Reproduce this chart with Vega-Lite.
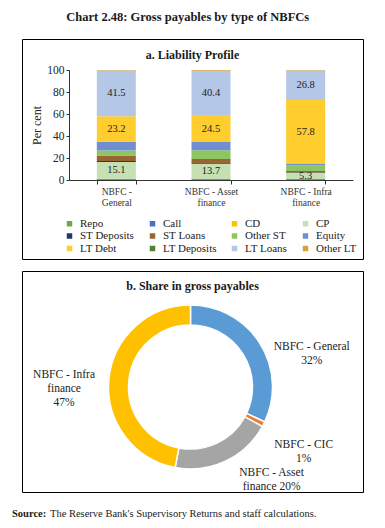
{
  "$schema": "https://vega.github.io/schema/vega-lite/v6.json",
  "padding": {"left": 12, "right": 12, "top": 11, "bottom": 6},
  "bounds": "flush",
  "title": {"text": "Chart 2.48: Gross payables by type of NBFCs", "fontSize": 12.5, "fontWeight": "bold", "anchor": "middle", "offset": 15, "color": "#1a1a1a"},
  "spacing": 12,
  "resolve": {"scale": {"color": "independent", "theta": "independent"}, "legend": {"color": "independent"}},
  "config": {
    "font": "Liberation Serif",
    "view": {"stroke": null},
    "axis": {"grid": false, "labelFont": "Liberation Serif", "titleFont": "Liberation Serif"},
    "legend": {"labelFont": "Liberation Serif"},
    "title": {"font": "Liberation Serif"}
  },
  "vconcat": [
    {
      "width": 341,
      "height": 220,
      "view": {"stroke": "#000", "strokeWidth": 1},
      "title": {"text": "a. Liability Profile", "fontSize": 12, "fontWeight": "bold", "anchor": "middle", "offset": 0, "dy": 23, "color": "#1a1a1a"},
      "data": {"values": [
        {"nbfc": "NBFC - General", "series": "Repo", "value": 1.2},
        {"nbfc": "NBFC - General", "series": "Call", "value": 0},
        {"nbfc": "NBFC - General", "series": "CD", "value": 0},
        {"nbfc": "NBFC - General", "series": "CP", "value": 15.1},
        {"nbfc": "NBFC - General", "series": "ST Deposits", "value": 1.0},
        {"nbfc": "NBFC - General", "series": "ST Loans", "value": 5.0},
        {"nbfc": "NBFC - General", "series": "Other ST", "value": 4.5},
        {"nbfc": "NBFC - General", "series": "Equity", "value": 8.0},
        {"nbfc": "NBFC - General", "series": "LT Debt", "value": 23.2},
        {"nbfc": "NBFC - General", "series": "LT Deposits", "value": 0},
        {"nbfc": "NBFC - General", "series": "LT Loans", "value": 41.5},
        {"nbfc": "NBFC - General", "series": "Other LT", "value": 0.5},
        {"nbfc": "NBFC - Asset finance", "series": "Repo", "value": 1.0},
        {"nbfc": "NBFC - Asset finance", "series": "Call", "value": 0},
        {"nbfc": "NBFC - Asset finance", "series": "CD", "value": 0},
        {"nbfc": "NBFC - Asset finance", "series": "CP", "value": 13.7},
        {"nbfc": "NBFC - Asset finance", "series": "ST Deposits", "value": 0.8},
        {"nbfc": "NBFC - Asset finance", "series": "ST Loans", "value": 3.5},
        {"nbfc": "NBFC - Asset finance", "series": "Other ST", "value": 8.0},
        {"nbfc": "NBFC - Asset finance", "series": "Equity", "value": 7.5},
        {"nbfc": "NBFC - Asset finance", "series": "LT Debt", "value": 24.5},
        {"nbfc": "NBFC - Asset finance", "series": "LT Deposits", "value": 0},
        {"nbfc": "NBFC - Asset finance", "series": "LT Loans", "value": 40.4},
        {"nbfc": "NBFC - Asset finance", "series": "Other LT", "value": 0.6},
        {"nbfc": "NBFC - Infra finance", "series": "Repo", "value": 1.0},
        {"nbfc": "NBFC - Infra finance", "series": "Call", "value": 0},
        {"nbfc": "NBFC - Infra finance", "series": "CD", "value": 0},
        {"nbfc": "NBFC - Infra finance", "series": "CP", "value": 5.3},
        {"nbfc": "NBFC - Infra finance", "series": "ST Deposits", "value": 0.6},
        {"nbfc": "NBFC - Infra finance", "series": "ST Loans", "value": 1.3},
        {"nbfc": "NBFC - Infra finance", "series": "Other ST", "value": 5.0},
        {"nbfc": "NBFC - Infra finance", "series": "Equity", "value": 1.8},
        {"nbfc": "NBFC - Infra finance", "series": "LT Debt", "value": 57.8},
        {"nbfc": "NBFC - Infra finance", "series": "LT Deposits", "value": 0},
        {"nbfc": "NBFC - Infra finance", "series": "LT Loans", "value": 26.8},
        {"nbfc": "NBFC - Infra finance", "series": "Other LT", "value": 0.4}
      ]},
      "transform": [{"window": [{"op": "row_number", "as": "idx"}]}],
      "encoding": {
        "x": {
          "field": "nbfc", "type": "nominal", "sort": null,
          "scale": {"range": [47, 331], "paddingInner": 0.588, "paddingOuter": 0.294},
          "axis": {
            "title": null, "orient": "bottom", "offset": -79, "labelAngle": 0,
            "tickBand": "extent", "tickSize": 4, "tickColor": "#333", "domainColor": "#333",
            "labelFontSize": 9.5, "labelColor": "#333", "labelPadding": 2, "labelLineHeight": 11,
            "labelExpr": "datum.value == 'NBFC - General' ? ['NBFC -', 'General'] : datum.value == 'NBFC - Asset finance' ? ['NBFC - Asset', 'finance'] : datum.value == 'NBFC - Infra finance' ? ['NBFC - Infra', 'finance'] : ''"
          }
        },
        "order": {"field": "idx", "type": "quantitative"}
      },
      "layer": [
        {
          "mark": {"type": "bar"},
          "encoding": {
            "y": {
              "field": "value", "type": "quantitative", "stack": "zero",
              "scale": {"domain": [0, 100], "range": [141, 31], "nice": false},
              "axis": {
                "title": "Per cent", "offset": -47, "values": [0, 10, 20, 30, 40, 50, 60, 70, 80, 90, 100],
                "tickSize": 3, "tickColor": "#333", "domainColor": "#333",
                "labelFontSize": 11.5, "labelColor": "#222", "labelPadding": 2,
                "titleFontSize": 12, "titleFontWeight": "normal", "titleColor": "#222", "titlePadding": 3
              }
            },
            "color": {
              "field": "series", "type": "nominal",
              "scale": {
                "domain": ["Repo", "Call", "CD", "CP", "ST Deposits", "ST Loans", "Other ST", "Equity", "LT Debt", "LT Deposits", "LT Loans", "Other LT"],
                "range": ["#6AAA45", "#4472C4", "#FFC000", "#C5E0B3", "#203864", "#996633", "#8DC560", "#6F8FD0", "#FFCD2E", "#548235", "#B4C7E7", "#D6A33A"]
              },
              "legend": {
                "title": null, "orient": "none", "legendX": 42, "legendY": 179, "columns": 4, "direction": "horizontal",
                "columnPadding": 12, "rowPadding": 0.5, "symbolType": "square", "symbolSize": 30,
                "symbolStrokeWidth": 0, "labelFontSize": 11, "labelColor": "#222", "labelOffset": 5, "padding": 0
              }
            }
          }
        },
        {
          "mark": {"type": "text", "fontSize": 10.5, "color": "#222"},
          "encoding": {
            "y": {"field": "value", "type": "quantitative", "stack": "zero", "bandPosition": 0.5},
            "detail": {"field": "series"},
            "text": {
              "condition": {"test": "datum.series === 'CP' || datum.series === 'LT Debt' || datum.series === 'LT Loans'", "field": "value", "type": "quantitative", "format": ".1f"},
              "value": ""
            }
          }
        }
      ]
    },
    {
      "width": 341,
      "height": 221,
      "view": {"stroke": "#000", "strokeWidth": 1},
      "title": {"text": "b. Share in gross payables", "fontSize": 12, "fontWeight": "bold", "anchor": "middle", "offset": 0, "dy": 22, "color": "#1a1a1a"},
      "data": {"values": [
        {"nbfc": "NBFC - General", "share": 32, "label": "NBFC - General\n32%"},
        {"nbfc": "NBFC - CIC", "share": 1, "label": "NBFC - CIC\n1%"},
        {"nbfc": "NBFC - Asset finance", "share": 20, "label": "NBFC - Asset\nfinance 20%"},
        {"nbfc": "NBFC - Infra finance", "share": 47, "label": "NBFC - Infra\nfinance\n47%"}
      ]},
      "transform": [{"window": [{"op": "row_number", "as": "idx"}]}],
      "encoding": {
        "theta": {"field": "share", "type": "quantitative", "stack": true},
        "order": {"field": "idx", "type": "quantitative"}
      },
      "layer": [
        {
          "mark": {"type": "arc", "outerRadius": 82, "innerRadius": 62, "stroke": "#fff", "strokeWidth": 1.5, "xOffset": -2, "yOffset": 5.5},
          "encoding": {
            "color": {
              "field": "nbfc", "type": "nominal",
              "scale": {"domain": ["NBFC - General", "NBFC - CIC", "NBFC - Asset finance", "NBFC - Infra finance"], "range": ["#5B9BD5", "#ED7D31", "#A5A5A5", "#FFC000"]},
              "legend": null
            }
          }
        },
        {
          "mark": {"type": "text", "radius": 127, "fontSize": 11.5, "color": "#222", "lineBreak": "\n", "lineHeight": 14, "xOffset": -2, "yOffset": 5.5},
          "encoding": {
            "detail": {"field": "nbfc"},
            "text": {"condition": {"test": "datum.nbfc === 'NBFC - CIC' || datum.nbfc === 'NBFC - Infra finance'", "field": "label"}, "value": ""}
          }
        },
        {
          "mark": {"type": "text", "radius": 127, "fontSize": 11.5, "color": "#222", "lineBreak": "\n", "lineHeight": 14, "xOffset": -2, "yOffset": 5.5, "dx": 14, "dy": 28},
          "encoding": {
            "detail": {"field": "nbfc"},
            "text": {"condition": {"test": "datum.nbfc === 'NBFC - General'", "field": "label"}, "value": ""}
          }
        },
        {
          "mark": {"type": "text", "radius": 127, "fontSize": 11.5, "color": "#222", "lineBreak": "\n", "lineHeight": 14, "xOffset": -2, "yOffset": 5.5, "dx": 27, "dy": -29},
          "encoding": {
            "detail": {"field": "nbfc"},
            "text": {"condition": {"test": "datum.nbfc === 'NBFC - Asset finance'", "field": "label"}, "value": ""}
          }
        }
      ]
    },
    {
      "spacing": 3,
      "bounds": "flush",
      "hconcat": [
        {
          "width": 35, "height": 1,
          "title": {"text": "Source:", "orient": "bottom", "fontSize": 10.5, "fontWeight": "bold", "anchor": "start", "dx": -10, "color": "#1a1a1a", "offset": 4},
          "data": {"values": []},
          "mark": {"type": "rule"},
          "encoding": {}
        },
        {
          "width": 300, "height": 1,
          "title": {"text": "The Reserve Bank's Supervisory Returns and staff calculations.", "orient": "bottom", "fontSize": 10.5, "fontWeight": "normal", "anchor": "start", "dx": -10, "color": "#1a1a1a", "offset": 4},
          "data": {"values": []},
          "mark": {"type": "rule"},
          "encoding": {}
        }
      ]
    }
  ]
}
